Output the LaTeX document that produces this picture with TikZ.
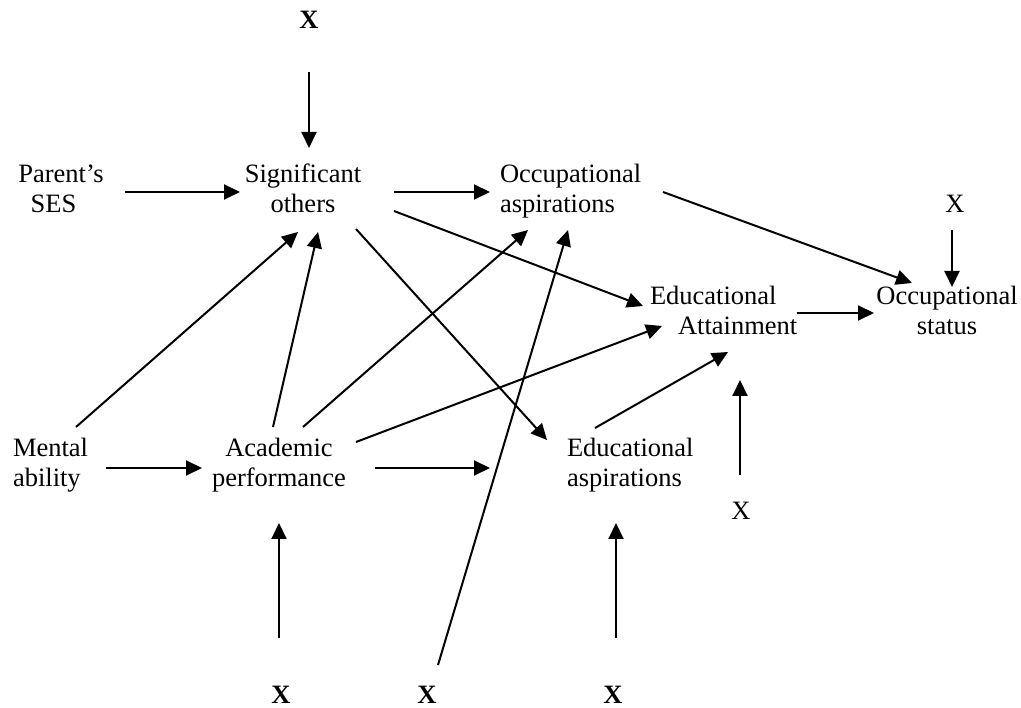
\documentclass[tikz,border=0pt]{standalone}
\usepackage{fontspec}
\setmainfont{Liberation Serif}
\usetikzlibrary{arrows.meta,calc}
\newcommand{\twoc}[2]{\begin{tabular}[t]{@{}c@{}}#1\\#2\end{tabular}}
\newcommand{\twol}[2]{\begin{tabular}[t]{@{}l@{}}#1\\#2\end{tabular}}
\begin{document}
\begin{tikzpicture}[x=1pt,y=-1pt,
  lbl/.style={inner sep=0pt,outer sep=0pt,font=\fontsize{26.5}{30}\selectfont},
  bx/.style={lbl,font=\fontsize{26.5}{30}\selectfont\bfseries},
  arr/.style={line width=2pt,-{Triangle[length=16pt,width=15pt]}}]
\useasboundingbox (0,0) rectangle (1021,708);
% nodes
\node[bx,anchor=base] (xtop) at (309,29) {X};
\node[lbl,anchor=base] (ps) at (61,183) {\twoc{Parent’s}{SES\hspace*{15pt}}};
\node[lbl,anchor=base] (so) at (303,183) {\twoc{Significant}{others}};
\node[lbl,anchor=base west] (oa) at (500,183) {\twol{Occupational}{aspirations}};
\node[lbl,anchor=base] (xr) at (955,213) {X};
\node[lbl,anchor=base] (os) at (947,305) {\twoc{Occupational}{status}};
\node[lbl,anchor=base west] (EA) at (650,305) {\twol{Educational}{\hspace*{28pt}Attainment}};
\node[lbl,anchor=base west] (ma) at (13,457) {\twol{Mental}{ability}};
\node[lbl,anchor=base] (ap) at (279,457) {\twoc{Academic}{performance}};
\node[lbl,anchor=base west] (eas) at (567,457) {\twol{Educational}{aspirations}};
\node[lbl,anchor=base] (xa) at (741,520) {X};
\node[bx,anchor=base] (xb1) at (281,703) {X};
\node[bx,anchor=base] (xb2) at (427,703) {X};
\node[bx,anchor=base] (xb3) at (613,703) {X};
% connectors
\draw[arr] ($(xtop.base)+(0,43)$) -- ($(so.base)+(6,-35)$);
\draw[arr] ($(ps.base)+(64,9)$) -- ($(so.base)+(-63,9)$);
\draw[arr] ($(so.base)+(91,9)$) -- ($(oa.base west)+(-10,9)$);
\draw[arr] ($(so.base)+(91,28)$) -- ($(EA.base west)+(-7,1)$);
\draw[arr] ($(so.base)+(53,46)$) -- ($(eas.base west)+(-20,-17)$);
\draw[arr] ($(ma.base west)+(63,-30)$) -- ($(so.base)+(-5,49)$);
\draw[arr] ($(ap.base)+(-6,-30)$) -- ($(so.base)+(15,49)$);
\draw[arr] ($(ap.base)+(24,-30)$) -- ($(oa.base west)+(28,47)$);
\draw[arr] ($(ap.base)+(77,-15)$) -- ($(EA.base west)+(12,21)$);
\draw[arr] ($(ap.base)+(96,11)$) -- ($(eas.base west)+(-77,11)$);
\draw[arr] ($(ma.base west)+(93,11)$) -- ($(ap.base)+(-77,11)$);
\draw[arr] ($(xb2.base)+(11,-38)$) -- ($(oa.base west)+(68,47)$);
\draw[arr] ($(eas.base west)+(28,-29)$) -- ($(EA.base west)+(78,47)$);
\draw[arr] ($(xa.base)+(-1,-45)$) -- ($(EA.base west)+(90,75)$);
\draw[arr] ($(EA.base west)+(147,8)$) -- ($(os.base)+(-73,8)$);
\draw[arr] ($(oa.base west)+(163,9)$) -- ($(os.base)+(-35,-22)$);
\draw[arr] ($(xr.base)+(-3,17)$) -- ($(os.base)+(5,-18)$);
\draw[arr] ($(xb1.base)+(-2,-65)$) -- ($(ap.base)+(0,66)$);
\draw[arr] ($(xb3.base)+(3,-65)$) -- ($(eas.base west)+(49,66)$);
\end{tikzpicture}
\end{document}
